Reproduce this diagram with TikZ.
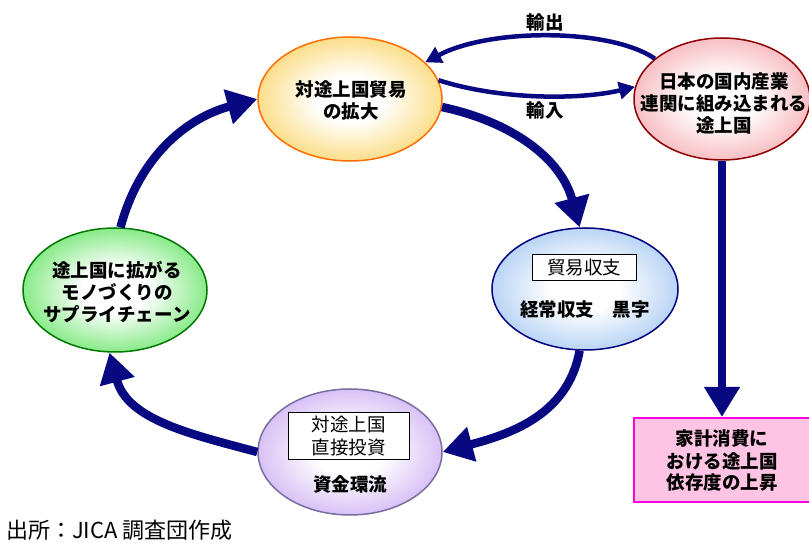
\documentclass[tikz,border=0pt]{standalone}
\usepackage{fontspec}
\newfontfamily\jp{Noto Sans CJK JP}
\usetikzlibrary{arrows.meta,shapes.geometric}
\definecolor{navy}{RGB}{8,8,128}
\definecolor{cY}{RGB}{248,192,30}
\definecolor{bY}{RGB}{255,110,0}
\definecolor{cP}{RGB}{240,130,140}
\definecolor{bP}{RGB}{140,0,0}
\definecolor{cB}{RGB}{120,172,236}
\definecolor{bB}{RGB}{0,0,128}
\definecolor{cV}{RGB}{180,134,236}
\definecolor{bV}{RGB}{120,110,160}
\definecolor{cG}{RGB}{25,215,25}
\definecolor{bG}{RGB}{0,120,0}
\definecolor{rectfill}{RGB}{255,196,228}
\definecolor{rectdraw}{RGB}{255,0,220}
\pgfdeclareradialshading{glowY}{\pgfpoint{0bp}{0bp}}{color(0bp)=(white);color(9bp)=(white);color(40bp)=(cY);color(50bp)=(cY)}
\pgfdeclareradialshading{glowP}{\pgfpoint{0bp}{0bp}}{color(0bp)=(white);color(9bp)=(white);color(40bp)=(cP);color(50bp)=(cP)}
\pgfdeclareradialshading{glowB}{\pgfpoint{0bp}{0bp}}{color(0bp)=(white);color(9bp)=(white);color(40bp)=(cB);color(50bp)=(cB)}
\pgfdeclareradialshading{glowV}{\pgfpoint{0bp}{0bp}}{color(0bp)=(white);color(9bp)=(white);color(40bp)=(cV);color(50bp)=(cV)}
\pgfdeclareradialshading{glowG}{\pgfpoint{0bp}{0bp}}{color(0bp)=(white);color(9bp)=(white);color(40bp)=(cG);color(50bp)=(cG)}
\newcommand{\bt}{\jp\bfseries\fontsize{18.5}{22}\selectfont}
\newcommand{\rt}{\jp\fontsize{18.5}{23}\selectfont}
\begin{document}
\begin{tikzpicture}[x=1pt,y=1pt,
  ell/.style={ellipse, line width=1.5pt, inner sep=0pt},
  big/.style={draw=navy, line width=8.5pt, -{Triangle[length=30pt,width=34pt]}},
  thinarrow/.style={draw=navy, line width=4.5pt, -{Triangle[length=16pt,width=17pt]}},
  lab/.style={font=\bt, inner sep=0pt, align=center},
  inbox/.style={draw, fill=white, line width=1pt, font=\rt, align=center, inner sep=0pt}
]
\useasboundingbox (0,0) rectangle (809,543);
\fill[white] (0,0) rectangle (809,543);

\node[ell, draw=bY, shading=glowY, minimum width=184pt, minimum height=124pt] (Y) at (350,444) {};
\node[ell, draw=bP, shading=glowP, minimum width=176pt, minimum height=122pt] (P) at (722,444) {};
\node[ell, draw=bB, shading=glowB, minimum width=186pt, minimum height=122pt] (B) at (585,254) {};
\node[ell, draw=bV, shading=glowV, minimum width=184pt, minimum height=126pt] (V) at (350,91) {};
\node[ell, draw=bG, shading=glowG, minimum width=184pt, minimum height=124pt] (G) at (115,253) {};
\node[draw=rectdraw, fill=rectfill, line width=2pt, minimum width=176pt, minimum height=84pt, inner sep=0pt] (R) at (722,83) {};

\node[lab] (Ytxt) at (351,443) {対途上国貿易\\の拡大};
\node[lab] (Ptxt) at (724,440) {日本の国内産業\\連関に組み込まれる\\途上国};
\node[lab] (Gtxt) at (117,251) {途上国に拡がる\\モノづくりの\\サプライチェーン};
\node[lab] (Rtxt) at (722,82) {家計消費に\\おける途上国\\依存度の上昇};

\node[inbox, minimum width=104pt, minimum height=26pt] (Bbox) at (584,275) {貿易収支};
\node[lab] (Btxt) at (585,233) {経常収支　黒字};
\node[inbox, minimum width=121pt, minimum height=47pt] (Vbox) at (348.5,106.5) {対途上国\\直接投資};
\node[lab] (Vtxt) at (350,59) {資金環流};

\node[lab] (exp) at (545,521) {輸出};
\node[lab] (imp) at (545,433) {輸入};

\draw[big] (Y.-5) to[out=-12,in=105] (B.95);
\draw[big] (B.-95) to[out=-100,in=15] (V.east);
\draw[big] (V.west) to[out=165,in=-75] (G.-95);
\draw[big] (G.85) to[out=75,in=195] (Y.west);
\draw[big] (P.south) -- (R.north);

\draw[thinarrow] (P.149) .. controls (610,515) and (490,515) .. (Y.26);
\draw[thinarrow] (Y.12) .. controls (500,443) and (580,443) .. (P.172);

\node[anchor=west, font=\jp\fontsize{22}{24}\selectfont, inner sep=0pt] (src) at (6,13) {出所：JICA 調査団作成};
\end{tikzpicture}
\end{document}
